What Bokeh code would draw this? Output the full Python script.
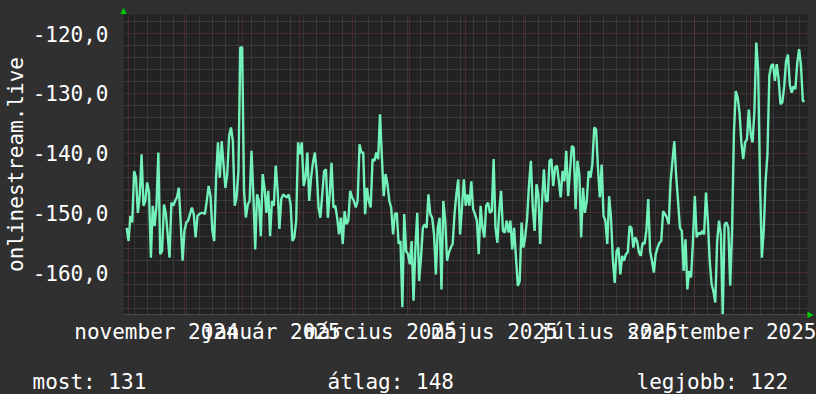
import pandas as pd
from bokeh.plotting import figure
from bokeh.layouts import column
from bokeh.models import Range1d, FixedTicker, DatetimeAxis, LinearAxis
from bokeh.core.properties import value
from bokeh.embed import file_html
from bokeh.resources import INLINE

# ---------------- data ----------------
series_name = "onlinestream.live"
start_date = "2024-10-31"          # first daily value
values = [
    -152.5, -154.7, -150.5, -151.6, -143.0, -144.1, -150.0, -147.2, -140.2, -148.8, -148.0,
    -144.9, -146.6, -157.5, -148.8, -152.2, -148.8, -139.9, -156.9, -156.4, -148.6,
    -150.0, -153.6, -157.5, -148.3, -148.8, -148.0, -147.4, -145.8, -151.6, -158.0,
    -153.0, -151.6, -151.3, -150.2, -149.1, -150.2, -154.1, -150.5, -150.2, -150.0,
    -150.0, -150.2, -148.0, -145.5, -147.2, -153.0, -154.7, -144.1, -138.2, -144.1,
    -138.0, -141.9, -145.8, -143.5, -137.1, -135.7, -138.0, -148.8, -147.4, -143.0,
    -122.3, -122.3, -146.3, -150.8, -148.6, -148.0, -139.6, -146.9, -156.1, -146.9,
    -148.0, -153.9, -143.5, -145.8, -150.0, -146.3, -153.9, -148.0, -148.8, -142.1,
    -146.0, -152.7, -147.7, -146.9, -147.2, -147.4, -146.9, -148.6, -154.7, -154.1,
    -151.3, -138.2, -140.2, -138.2, -145.5, -144.1, -139.9, -148.0, -144.1, -141.6,
    -139.9, -143.0, -149.1, -150.8, -146.9, -143.0, -142.7, -150.8, -146.9, -141.6,
    -149.1, -148.8, -150.8, -153.6, -150.8, -155.2, -149.7, -151.9, -151.3, -146.3,
    -147.4, -148.0, -149.1, -148.0, -138.5, -139.9, -139.9, -150.2, -145.8, -148.0,
    -149.1, -141.0, -141.3, -139.9, -141.0, -133.5, -140.7, -147.2, -143.5, -145.2,
    -148.0, -149.1, -153.6, -150.2, -150.0, -155.2, -154.7, -165.8, -150.2, -156.4,
    -156.9, -158.6, -154.7, -164.7, -155.8, -150.0, -161.4, -157.5, -152.5, -151.9,
    -152.5, -146.9, -150.2, -150.8, -153.6, -160.3, -152.5, -150.8, -162.8, -148.0,
    -151.3, -158.0, -156.6, -155.8, -155.2, -150.2, -146.9, -144.4, -153.6, -149.1,
    -144.4, -148.8, -146.9, -148.8, -144.7, -149.4, -150.2, -151.3, -156.9, -148.8,
    -152.5, -154.1, -148.8, -148.3, -150.0, -149.7, -141.0, -152.5, -155.0, -149.7,
    -146.3, -153.0, -153.3, -151.3, -153.3, -151.3, -156.1, -152.5, -157.5, -162.2,
    -161.4, -151.6, -155.8, -153.9, -150.8, -145.2, -141.3, -149.1, -153.0, -145.2,
    -146.9, -155.2, -148.0, -142.7, -148.0, -148.0, -141.3, -141.0, -145.5, -142.4,
    -142.1, -144.7, -147.4, -143.0, -144.7, -139.6, -147.2, -143.0, -138.8, -139.1,
    -149.4, -141.3, -143.5, -154.1, -145.8, -150.0, -148.0, -143.0, -144.1, -141.9,
    -135.7, -136.0, -142.4, -147.4, -141.9, -150.5, -151.3, -155.2, -147.2, -150.8,
    -157.8, -161.7, -156.4, -155.8, -160.3, -157.2, -158.0, -156.9, -156.6, -152.2,
    -152.5, -155.8, -154.1, -154.7, -156.6, -157.2, -155.0, -155.2, -153.0, -147.7,
    -156.4, -158.0, -160.0, -156.9, -155.8, -155.0, -154.7, -149.7, -150.2, -150.8,
    -151.9, -144.7, -141.3, -138.0, -143.8, -148.0, -152.5, -153.0, -159.7, -154.4,
    -162.8, -159.7, -160.8, -154.7, -147.2, -154.1, -153.3, -153.6, -153.0, -153.6,
    -146.6, -151.3, -158.0, -161.9, -163.1, -165.0, -154.7, -151.3, -153.6, -167.0,
    -151.9, -151.6, -152.5, -162.2, -153.0, -136.6, -129.6, -130.7, -133.2, -138.2,
    -141.0, -138.2, -137.7, -132.7, -136.8, -138.2, -132.9, -121.5, -126.0, -144.7,
    -157.5, -153.0, -144.7, -140.2, -127.1, -125.4, -125.1, -127.9, -125.1, -127.6,
    -131.8, -131.5, -128.8, -124.6, -123.5, -128.5, -129.9, -128.8, -129.3, -124.9,
    -122.6, -125.4, -131.3, -131.3,
]
label_months = ["2024-11", "2025-01", "2025-03", "2025-05", "2025-07", "2025-09"]
month_labels = ["november 2024", "január 2025", "március 2025",
                "május 2025", "július 2025", "szeptember 2025"]
y_ticks = [-160, -150, -140, -130, -120]
summary_names = ["most", "átlag", "legjobb"]
summary_values = [131, 148, 122]

# ---------------- styling ----------------
FONT = "DejaVu Sans Mono"
LINE = "#72F2BA"
OUTER = "#303030"
INNER = "#222222"
MAJOR = "#6e3434"
MINOR = "#4e4e4e"
TXT = "#ffffff"
ARROW = "#00cc00"
W = 816
H_MAIN, H_SUM = 350, 44

dates = pd.date_range(start_date, periods=len(values), freq="D")


def ms(ts):
    return float(pd.Timestamp(ts).value // 10**6)


x_start = pd.Timestamp("2024-10-29 07:00")
x_end = pd.Timestamp("2025-10-31 12:00")
y_lo, y_hi = -167.0, -116.8

p = figure(width=W, height=H_MAIN, x_axis_type="datetime",
           x_range=Range1d(x_start, x_end), y_range=Range1d(y_lo, y_hi),
           output_backend="svg", toolbar_location=None,
           background_fill_color=INNER, border_fill_color=OUTER,
           outline_line_color=None,
           min_border_left=123, min_border_right=6,
           min_border_top=14, min_border_bottom=36)
p.frame_align = False

p.line(dates, values, line_color=LINE, line_width=2.4)

# grids: monthly major (red), weekly minor (grey); y every 10 / every 2
month_starts = pd.date_range("2024-11-01", "2025-10-01", freq="MS")
weeks = pd.date_range("2024-10-28", "2025-11-03", freq="W-MON")
p.xgrid.ticker = FixedTicker(ticks=[ms(t) for t in month_starts],
                             minor_ticks=[ms(t) for t in weeks])
y_minor = [v for v in range(-166, -116, 2) if v % 10 != 0]
p.ygrid.ticker = FixedTicker(ticks=y_ticks, minor_ticks=y_minor)
for g in (p.xgrid, p.ygrid):
    g.grid_line_color = MAJOR
    g.grid_line_dash = "1 1"
    g.grid_line_width = 1
    g.minor_grid_line_color = MINOR
    g.minor_grid_line_dash = "1 1"
    g.minor_grid_line_width = 1

# x axis labels centred on the middle of each labelled month
mids = []
for m in label_months:
    a = pd.Timestamp(m + "-01")
    b = a + pd.offsets.MonthBegin(1)
    mids.append(ms(a + (b - a) / 2))
p.xaxis.ticker = FixedTicker(ticks=mids)
p.xaxis.major_label_overrides = {t: lab for t, lab in zip(mids, month_labels)}

p.yaxis.ticker = FixedTicker(ticks=y_ticks)
p.yaxis.major_label_overrides = {t: f"{t:.1f}".replace(".", ",") for t in y_ticks}
p.yaxis.axis_label = series_name

for ax in (p.xaxis[0], p.yaxis[0]):
    ax.major_label_text_font = FONT
    ax.major_label_text_font_size = "21px"
    ax.major_label_text_color = TXT
    ax.major_tick_line_color = None
    ax.minor_tick_line_color = None
    ax.major_tick_out = 0
    ax.major_tick_in = 0
    ax.axis_label_text_font = FONT
    ax.axis_label_text_font_size = "21px"
    ax.axis_label_text_font_style = "normal"
    ax.axis_label_text_color = TXT
p.xaxis.axis_line_color = "#4a4a4a"
p.yaxis.axis_line_color = None
p.xaxis.major_label_standoff = 5
p.yaxis.major_label_standoff = 15
p.yaxis.axis_label_standoff = 2


def arrow_axis(ax, pos, glyph):
    ax.ticker = FixedTicker(ticks=[pos])
    ax.major_label_overrides = {pos: glyph}
    ax.axis_line_color = None
    ax.major_tick_line_color = None
    ax.minor_tick_line_color = None
    ax.major_tick_out = 0
    ax.major_tick_in = 0
    ax.major_label_standoff = 0
    ax.major_label_text_font = "DejaVu Sans"
    ax.major_label_text_font_size = "8px"
    ax.major_label_text_color = ARROW
    return ax


# green arrows at the ends of the axes
p.add_layout(arrow_axis(DatetimeAxis(), ms(x_start), "▲"), "above")
p.add_layout(arrow_axis(LinearAxis(), y_lo, "▶"), "right")

# summary line under the chart
s = figure(width=W, height=H_SUM, x_range=Range1d(0, W), y_range=Range1d(0, H_SUM),
           output_backend="svg", toolbar_location=None,
           x_axis_location=None, y_axis_location=None,
           background_fill_color=OUTER, border_fill_color=OUTER,
           outline_line_color=None, min_border=0)
s.frame_align = False
s.grid.visible = False
summary_x = [32, 327, 636]
s.text(x=summary_x, y=[13] * len(summary_x),
       text=[f"{n}: {v}" for n, v in zip(summary_names, summary_values)],
       text_font=value(FONT), text_font_size="21px", text_color=TXT,
       text_baseline="alphabetic", text_align="left")

layout = column(p, s, spacing=0)
layout.styles = {"background-color": OUTER, "gap": "0px"}
open("out.html", "w").write(file_html(layout, INLINE))
